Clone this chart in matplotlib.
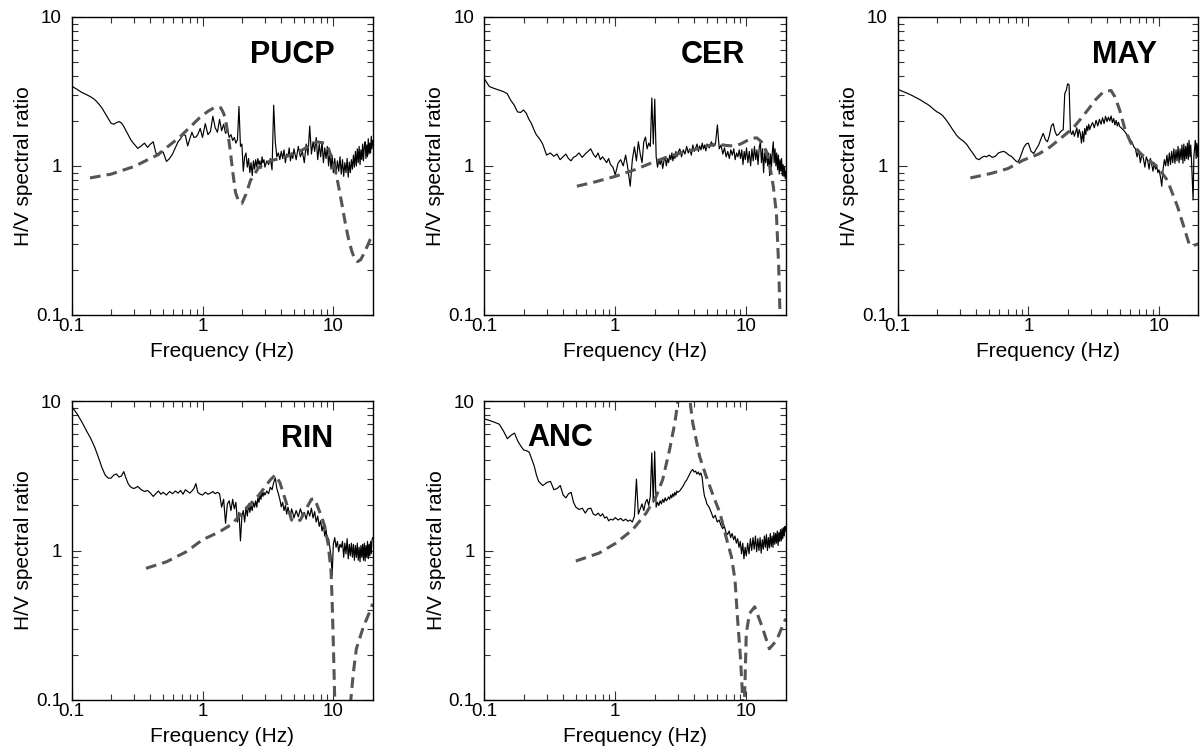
import matplotlib
matplotlib.use("Agg")
import matplotlib.pyplot as plt
from matplotlib.ticker import FixedLocator, FixedFormatter, NullFormatter

plt.rcParams["font.family"] = ["Liberation Sans", "DejaVu Sans"]

# ======================================================
# Data
# ======================================================

# common frequency grid of the observed H/V curves (Hz)
FREQ = [
    0.10, 0.11, 0.12, 0.13, 0.14, 0.15, 0.16, 0.17, 0.18, 0.19,
    0.20, 0.21, 0.22, 0.23, 0.24, 0.25, 0.26, 0.27, 0.28, 0.29,
    0.30, 0.32, 0.34, 0.36, 0.38, 0.40, 0.42, 0.44, 0.46, 0.48,
    0.50, 0.53, 0.56, 0.59, 0.62, 0.65, 0.68, 0.71, 0.74, 0.77,
    0.80, 0.83, 0.86, 0.89, 0.92, 0.96, 1.00,
    1.05, 1.10, 1.15, 1.20, 1.25, 1.30, 1.35, 1.40, 1.45, 1.50,
    1.55, 1.60, 1.65, 1.70, 1.75, 1.80, 1.85, 1.90, 1.95, 2.00,
    2.05, 2.10, 2.15, 2.20, 2.25, 2.30, 2.35, 2.40, 2.45, 2.50,
    2.55, 2.60, 2.65, 2.70, 2.75, 2.80, 2.85, 2.90, 2.95, 3.00,
    3.1, 3.2, 3.3, 3.4, 3.5, 3.6, 3.7, 3.8, 3.9, 4.0,
    4.1, 4.2, 4.3, 4.4, 4.5, 4.6, 4.7, 4.8, 4.9, 5.0,
    5.2, 5.4, 5.6, 5.8, 6.0, 6.2, 6.4, 6.6, 6.8, 7.0,
    7.2, 7.4, 7.6, 7.8, 8.0, 8.2, 8.4, 8.6, 8.8, 9.0,
    9.2, 9.4, 9.6, 9.8, 10.0, 10.25, 10.5, 10.75, 11.0, 11.25,
    11.5, 11.75, 12.0, 12.25, 12.5, 12.75, 13.0, 13.25, 13.5, 13.75,
    14.0, 14.25, 14.5, 14.75, 15.0, 15.25, 15.5, 15.75, 16.0, 16.25,
    16.5, 16.75, 17.0, 17.25, 17.5, 17.75, 18.0, 18.25, 18.5, 18.75,
    19.0, 19.25, 19.5, 19.75, 20.0,
]

PUCP_OBS = [
    3.43, 3.25, 3.10, 3.00, 2.90, 2.78, 2.62, 2.45, 2.25, 2.08,
    1.93, 1.90, 1.95, 1.98, 1.94, 1.84, 1.72, 1.62, 1.52, 1.45,
    1.40, 1.31, 1.36, 1.42, 1.33, 1.40, 1.45, 1.22, 1.17, 1.22,
    1.24, 1.07, 1.12, 1.20, 1.32, 1.45, 1.52, 1.62, 1.60, 1.36,
    1.52, 1.68, 1.55, 1.56, 1.62, 1.78, 1.55,
    1.92, 1.62, 1.70, 2.15, 1.80, 1.68, 2.05, 1.72, 1.90, 1.65,
    1.75, 1.55, 1.62, 1.48, 1.55, 1.42, 1.50, 2.50, 1.35, 1.40,
    0.92, 1.15, 1.22, 0.98, 1.12, 0.90, 1.05, 0.86, 1.08, 0.95,
    1.10, 0.98, 1.12, 1.02, 1.08, 0.96, 1.15, 1.05, 1.10, 0.98,
    1.08, 1.02, 1.12, 0.94, 2.55, 1.45, 1.15, 1.22, 1.10, 1.25,
    1.12, 1.28, 1.05, 1.20, 1.15, 1.32, 1.08, 1.22, 1.12, 1.30,
    1.10, 1.35, 1.15, 1.25, 1.05, 1.40, 1.18, 1.85, 1.20, 1.45,
    1.25, 1.55, 1.10, 1.40, 1.15, 1.45, 1.05, 1.32, 1.12, 1.35,
    1.00, 1.25, 0.95, 1.18, 0.90, 1.12, 0.88, 1.08, 0.92, 1.15,
    0.88, 1.10, 0.85, 1.05, 0.90, 1.12, 0.84, 1.06, 0.90, 1.10,
    0.95, 1.18, 0.98, 1.25, 1.00, 1.30, 1.05, 1.35, 1.02, 1.28,
    1.10, 1.40, 1.08, 1.35, 1.45, 1.12, 1.38, 1.15, 1.52, 1.20,
    1.42, 1.22, 1.58, 1.30, 1.48,
]

CER_OBS = [
    3.86, 3.40, 3.30, 3.22, 3.15, 3.05, 2.75, 2.55, 2.30, 2.28,
    2.37, 2.25, 2.05, 1.92, 1.75, 1.62, 1.55, 1.48, 1.40, 1.28,
    1.18, 1.22, 1.16, 1.20, 1.10, 1.15, 1.20, 1.12, 1.08, 1.14,
    1.16, 1.22, 1.14, 1.20, 1.25, 1.30, 1.20, 1.14, 1.22, 1.10,
    1.15, 1.10, 1.05, 1.12, 1.02, 0.98, 0.87,
    1.04, 1.10, 1.00, 1.18, 0.95, 0.73, 1.10, 1.34, 1.08, 1.45,
    1.20, 1.05, 1.45, 1.56, 1.30, 1.42, 1.35, 2.85, 1.40, 2.80,
    1.15, 0.98, 1.10, 1.02, 1.12, 0.96, 1.08, 1.15, 1.00, 1.12,
    1.05, 1.18, 1.10, 1.22, 1.08, 1.20, 1.12, 1.25, 1.15, 1.22,
    1.30, 1.15, 1.28, 1.20, 1.35, 1.22, 1.30, 1.18, 1.38, 1.25,
    1.32, 1.40, 1.25, 1.36, 1.28, 1.42, 1.30, 1.38, 1.26, 1.40,
    1.32, 1.45, 1.35, 1.40, 1.88, 1.30, 1.38, 1.20, 1.32, 1.15,
    1.25, 1.12, 1.28, 1.18, 1.30, 1.10, 1.22, 1.15, 1.28, 1.12,
    1.28, 1.02, 1.25, 1.10, 1.32, 1.05, 1.25, 1.00, 1.30, 1.08,
    1.35, 1.10, 1.28, 1.02, 1.32, 1.45, 1.05, 1.30, 0.90, 1.22,
    1.05, 1.28, 1.00, 1.22, 0.86, 1.20, 0.98, 1.25, 1.45, 1.05,
    1.30, 1.00, 1.22, 0.94, 1.18, 0.88, 1.10, 0.92, 1.12, 0.86,
    1.02, 0.85, 0.98, 0.82, 0.92,
]

MAY_OBS = [
    3.26, 3.15, 3.05, 2.95, 2.85, 2.76, 2.66, 2.58, 2.48, 2.38,
    2.30, 2.25, 2.18, 2.08, 1.98, 1.88, 1.78, 1.70, 1.62, 1.56,
    1.52, 1.46, 1.38, 1.28, 1.20, 1.12, 1.10, 1.14, 1.16, 1.15,
    1.18, 1.14, 1.16, 1.22, 1.24, 1.25, 1.22, 1.18, 1.16, 1.12,
    1.08, 1.06, 1.12, 1.22, 1.32, 1.40, 1.42,
    1.25, 1.21, 1.30, 1.38, 1.52, 1.65, 1.50, 1.45, 1.60, 1.85,
    1.92, 1.70, 1.60, 1.62, 1.68, 1.72, 1.75, 3.05, 3.20, 3.55,
    3.50, 1.70, 1.62, 1.72, 1.58, 1.68, 1.80, 1.55, 1.75, 1.65,
    1.42, 1.70, 1.45, 1.78, 1.62, 1.85, 1.72, 1.90, 1.75, 1.83,
    1.95, 1.80, 2.02, 1.85, 2.05, 1.90, 2.10, 1.92, 2.15, 1.98,
    2.12, 2.00, 2.16, 1.95, 2.08, 1.88, 2.02, 1.85, 1.96, 1.84,
    1.78, 1.72, 1.65, 1.58, 1.50, 1.45, 1.35, 1.30, 1.15, 1.28,
    1.05, 1.20, 1.12, 0.98, 1.15, 1.08, 0.95, 1.12, 1.02, 0.92,
    1.05, 0.95, 1.00, 0.90, 0.94, 0.85, 0.73, 0.95, 1.10, 1.00,
    1.18, 1.00, 1.22, 1.02, 1.25, 1.05, 1.30, 1.04, 1.28, 1.08,
    1.35, 1.05, 1.30, 1.10, 1.38, 1.04, 1.40, 1.08, 1.35, 1.12,
    1.42, 1.10, 1.48, 1.15, 1.38, 1.08, 0.80, 0.59, 1.15, 1.32,
    1.48, 1.12, 1.42, 1.15, 1.38,
]

RIN_OBS = [
    9.20, 8.20, 7.20, 6.30, 5.60, 4.90, 4.20, 3.60, 3.20, 3.05,
    3.05, 3.20, 3.25, 3.10, 3.15, 3.37, 3.05, 2.80, 2.68, 2.62,
    2.60, 2.68, 2.55, 2.48, 2.52, 2.42, 2.30, 2.40, 2.50, 2.38,
    2.45, 2.35, 2.48, 2.40, 2.50, 2.42, 2.52, 2.38, 2.55, 2.48,
    2.42, 2.50, 2.60, 2.80, 2.45, 2.38, 2.35,
    2.45, 2.38, 2.42, 2.48, 2.40, 2.45, 2.40, 1.95, 2.20, 1.52,
    2.05, 2.15, 1.85, 2.20, 1.90, 2.10, 1.55, 1.80, 1.16, 1.70,
    1.85, 1.55, 1.95, 1.70, 2.05, 1.80, 2.00, 1.85, 2.10, 1.95,
    2.15, 1.95, 2.25, 2.10, 2.35, 2.20, 2.50, 2.30, 2.45, 2.35,
    2.50, 2.40, 2.65, 2.55, 2.85, 3.05, 2.60, 2.40, 2.20, 1.96,
    2.10, 1.85, 2.00, 1.75, 1.95, 1.80, 1.70, 1.90, 1.78, 1.65,
    1.85, 1.68, 1.90, 1.72, 1.80, 1.62, 1.85, 1.70, 1.92, 1.65,
    1.82, 1.55, 1.70, 1.45, 1.58, 1.35, 1.48, 1.25, 1.38, 1.15,
    1.20, 1.05, 0.92, 0.68, 1.10, 1.22, 1.05, 1.15, 0.98, 1.10,
    1.05, 1.15, 0.90, 1.12, 0.95, 1.20, 0.88, 1.10, 0.92, 1.12,
    0.90, 1.10, 0.86, 1.08, 0.90, 1.12, 0.86, 1.05, 0.84, 1.08,
    0.90, 1.10, 0.86, 1.12, 0.85, 1.08, 0.90, 1.15, 0.88, 1.10,
    0.92, 1.15, 0.95, 1.18, 1.22,
]

ANC_OBS = [
    7.60, 7.40, 7.20, 7.00, 6.30, 5.60, 5.90, 6.10, 5.40, 5.00,
    4.70, 4.65, 4.55, 4.10, 3.70, 3.20, 2.90, 2.80, 2.72, 2.78,
    2.85, 2.90, 2.55, 2.60, 2.72, 2.35, 2.25, 2.40, 2.45, 2.10,
    1.95, 1.88, 1.92, 1.78, 1.90, 1.92, 1.75, 1.72, 1.78, 1.70,
    1.76, 1.65, 1.68, 1.58, 1.62, 1.60, 1.66,
    1.60, 1.64, 1.58, 1.62, 1.57, 1.60, 1.55, 1.70, 3.00, 1.75,
    1.90, 2.05, 1.85, 2.10, 2.20, 2.00, 2.30, 4.50, 2.10, 4.60,
    1.95, 2.10, 2.00, 2.15, 2.05, 2.20, 2.10, 2.25, 2.15, 2.20,
    2.28, 2.20, 2.35, 2.25, 2.40, 2.30, 2.45, 2.35, 2.50, 2.45,
    2.50, 2.60, 2.70, 2.85, 2.95, 3.10, 3.25, 3.40, 3.48, 3.35,
    3.40, 3.25, 3.35, 3.20, 3.30, 3.10, 2.60, 2.30, 2.20, 2.05,
    1.95, 1.80, 1.65, 1.72, 1.55, 1.60, 1.48, 1.40, 1.45, 1.32,
    1.28, 1.35, 1.22, 1.30, 1.18, 1.25, 1.12, 1.20, 1.05, 1.15,
    0.95, 1.12, 0.88, 1.05, 0.92, 1.12, 0.95, 1.20, 1.00, 1.22,
    1.02, 1.25, 0.98, 1.20, 1.00, 1.22, 0.96, 1.18, 1.02, 1.25,
    1.05, 1.28, 1.00, 1.22, 1.04, 1.30, 1.06, 1.25, 1.05, 1.32,
    1.10, 1.30, 1.12, 1.35, 1.08, 1.32, 1.15, 1.38, 1.16, 1.40,
    1.20, 1.42, 1.25, 1.45, 1.35,
]

# theoretical (model) H/V curves, each with its own frequencies
PUCP_MODEL_F = [0.138, 0.2, 0.3, 0.45, 0.67, 0.95, 1.1, 1.25, 1.38, 1.45,
                1.5, 1.58, 1.64, 1.7, 1.79, 1.9, 2.0, 2.14, 2.33, 2.7,
                3.3, 4.2, 5.5, 6.5, 7.5, 8.5, 9.2, 9.8, 10.4, 11.0,
                11.6, 12.3, 13.0, 13.8, 14.6, 15.3, 16.2, 17.2, 18.2, 19.1,
                20.0]
PUCP_MODEL = [0.83, 0.88, 0.99, 1.18, 1.56, 2.10, 2.32, 2.48, 2.45, 2.25,
              2.03, 1.55, 1.21, 0.92, 0.66, 0.57, 0.56, 0.64, 0.80, 0.98,
              1.08, 1.14, 1.25, 1.35, 1.45, 1.42, 1.30, 1.10, 0.92, 0.72,
              0.56, 0.42, 0.33, 0.27, 0.235, 0.228, 0.235, 0.26, 0.29, 0.32,
              0.34]

CER_MODEL_F = [0.51, 0.7, 1.0, 1.4, 2.06, 2.6, 3.3, 4.2, 5.0, 6.0,
               7.0, 8.0, 9.0, 10.0, 11.0, 12.0, 13.0, 13.8, 14.5, 15.1,
               16.0, 16.9, 17.6, 18.0, 18.3]
CER_MODEL = [0.73, 0.78, 0.85, 0.94, 1.08, 1.16, 1.23, 1.30, 1.36, 1.40,
             1.37, 1.36, 1.40, 1.47, 1.53, 1.54, 1.45, 1.32, 1.15, 0.99,
             0.73, 0.48, 0.21, 0.10, 0.06]

MAY_MODEL_F = [0.36, 0.52, 0.7, 0.91, 1.2, 1.47, 1.8, 2.2, 2.5, 2.85,
               3.3, 3.76, 4.3, 4.6, 5.0, 5.5, 6.1, 7.3, 8.5, 9.7,
               11.6, 13.9, 15.5, 17.0, 17.8, 19.0, 20.0]
MAY_MODEL = [0.83, 0.89, 0.96, 1.09, 1.2, 1.34, 1.55, 1.79, 2.05, 2.37,
             2.8, 3.14, 3.2, 2.9, 2.37, 1.75, 1.42, 1.2, 1.08, 0.99,
             0.8, 0.53, 0.39, 0.3, 0.29, 0.295, 0.30]

RIN_MODEL_F = [0.37, 0.53, 0.75, 1.0, 1.34, 1.68, 2.1, 2.7, 3.3, 3.6,
               3.9, 4.3, 4.8, 5.1, 5.6, 6.2, 6.8, 7.2, 7.6, 8.1,
               8.6, 9.1, 9.6, 9.8, 10.0, 10.2, 10.5, 12.0, 13.3, 13.6,
               14.2, 15.0, 17.0, 19.0, 20.0]
RIN_MODEL = [0.76, 0.84, 0.98, 1.18, 1.33, 1.5, 1.87, 2.35, 2.97, 3.2,
             2.85, 2.18, 1.6, 1.55, 1.6, 1.9, 2.2, 2.22, 1.96, 1.7,
             1.45, 1.12, 0.74, 0.45, 0.24, 0.12, 0.05, 0.02, 0.06, 0.1,
             0.15, 0.22, 0.31, 0.39, 0.44]

ANC_MODEL_F = [0.5, 0.75, 1.01, 1.36, 1.72, 2.05, 2.3, 2.6, 2.85, 3.0,
               3.15, 3.4, 3.65, 3.9, 4.4, 4.9, 5.6, 6.3, 7.1, 7.7,
               8.2, 8.6, 9.0, 9.3, 9.55, 9.8, 10.0, 10.6, 11.6, 13.2,
               15.0, 17.0, 20.0]
ANC_MODEL = [0.85, 0.96, 1.12, 1.38, 1.78, 2.3, 2.98, 4.74, 7.16, 9.8,
             13.0, 16.0, 11.5, 7.16, 4.27, 3.2, 2.32, 1.78, 1.18, 0.91,
             0.64, 0.34, 0.2, 0.12, 0.07, 0.14, 0.28, 0.38, 0.42, 0.31,
             0.22, 0.25, 0.35]

STATIONS = ["PUCP", "CER", "MAY", "RIN", "ANC"]
OBSERVED = [PUCP_OBS, CER_OBS, MAY_OBS, RIN_OBS, ANC_OBS]
MODEL_F = [PUCP_MODEL_F, CER_MODEL_F, MAY_MODEL_F, RIN_MODEL_F, ANC_MODEL_F]
MODEL = [PUCP_MODEL, CER_MODEL, MAY_MODEL, RIN_MODEL, ANC_MODEL]

# ======================================================
# Layout (figure fractions) and label placement
# ======================================================

W, H = 1203, 754
AX_PIX = [  # left, top, right, bottom in pixels
    (71.7, 16.7, 372.7, 315.0),
    (484.0, 16.7, 786.0, 315.0),
    (897.7, 16.7, 1198.3, 315.0),
    (71.7, 401.0, 372.7, 700.0),
    (484.3, 401.0, 785.7, 700.0),
]
NAME_POS = [
    (0.875, 0.844, "right"),
    (0.864, 0.844, "right"),
    (0.863, 0.844, "right"),
    (0.868, 0.847, "right"),
    (0.144, 0.849, "left"),
]

MINOR = [0.2, 0.3, 0.4, 0.5, 0.6, 0.7, 0.8, 0.9, 2, 3, 4, 5, 6, 7, 8, 9]

# ======================================================
# Plot
# ======================================================

fig = plt.figure(figsize=(W / 100, H / 100), dpi=100)

for i, name in enumerate(STATIONS):
    l, t, r, b = AX_PIX[i]
    ax = fig.add_axes([l / W, 1 - b / H, (r - l) / W, (b - t) / H])

    ax.plot(FREQ, OBSERVED[i], color="black", lw=0.85)
    ax.plot(MODEL_F[i], MODEL[i], color="#555555", lw=2.2,
            linestyle=(0, (3.5, 2.0)))

    ax.set_xscale("log")
    ax.set_yscale("log")
    ax.set_xlim(0.1, 20)
    ax.set_ylim(0.1, 10)

    for axis in (ax.xaxis, ax.yaxis):
        axis.set_major_locator(FixedLocator([0.1, 1, 10]))
        axis.set_major_formatter(FixedFormatter(["0.1", "1", "10"]))
        axis.set_minor_locator(FixedLocator(MINOR))
        axis.set_minor_formatter(NullFormatter())

    ax.tick_params(which="both", direction="in", top=True, right=True,
                   color="#333333", width=0.8, labelsize=13.5)
    ax.tick_params(which="major", length=6.5)
    ax.tick_params(which="minor", length=4.3)
    ax.tick_params(axis="x", pad=2.5)
    ax.tick_params(axis="y", pad=7)

    for sp in ax.spines.values():
        sp.set_linewidth(1.0)
        sp.set_color("black")

    ax.set_xlabel("Frequency (Hz)", fontsize=15, labelpad=5)
    ax.set_ylabel("H/V spectral ratio", fontsize=15, labelpad=2)

    x, y, ha = NAME_POS[i]
    ax.text(x, y, name, transform=ax.transAxes, ha=ha, va="baseline",
            fontsize=22, fontweight="bold")

fig.savefig("out.png", dpi=100)
